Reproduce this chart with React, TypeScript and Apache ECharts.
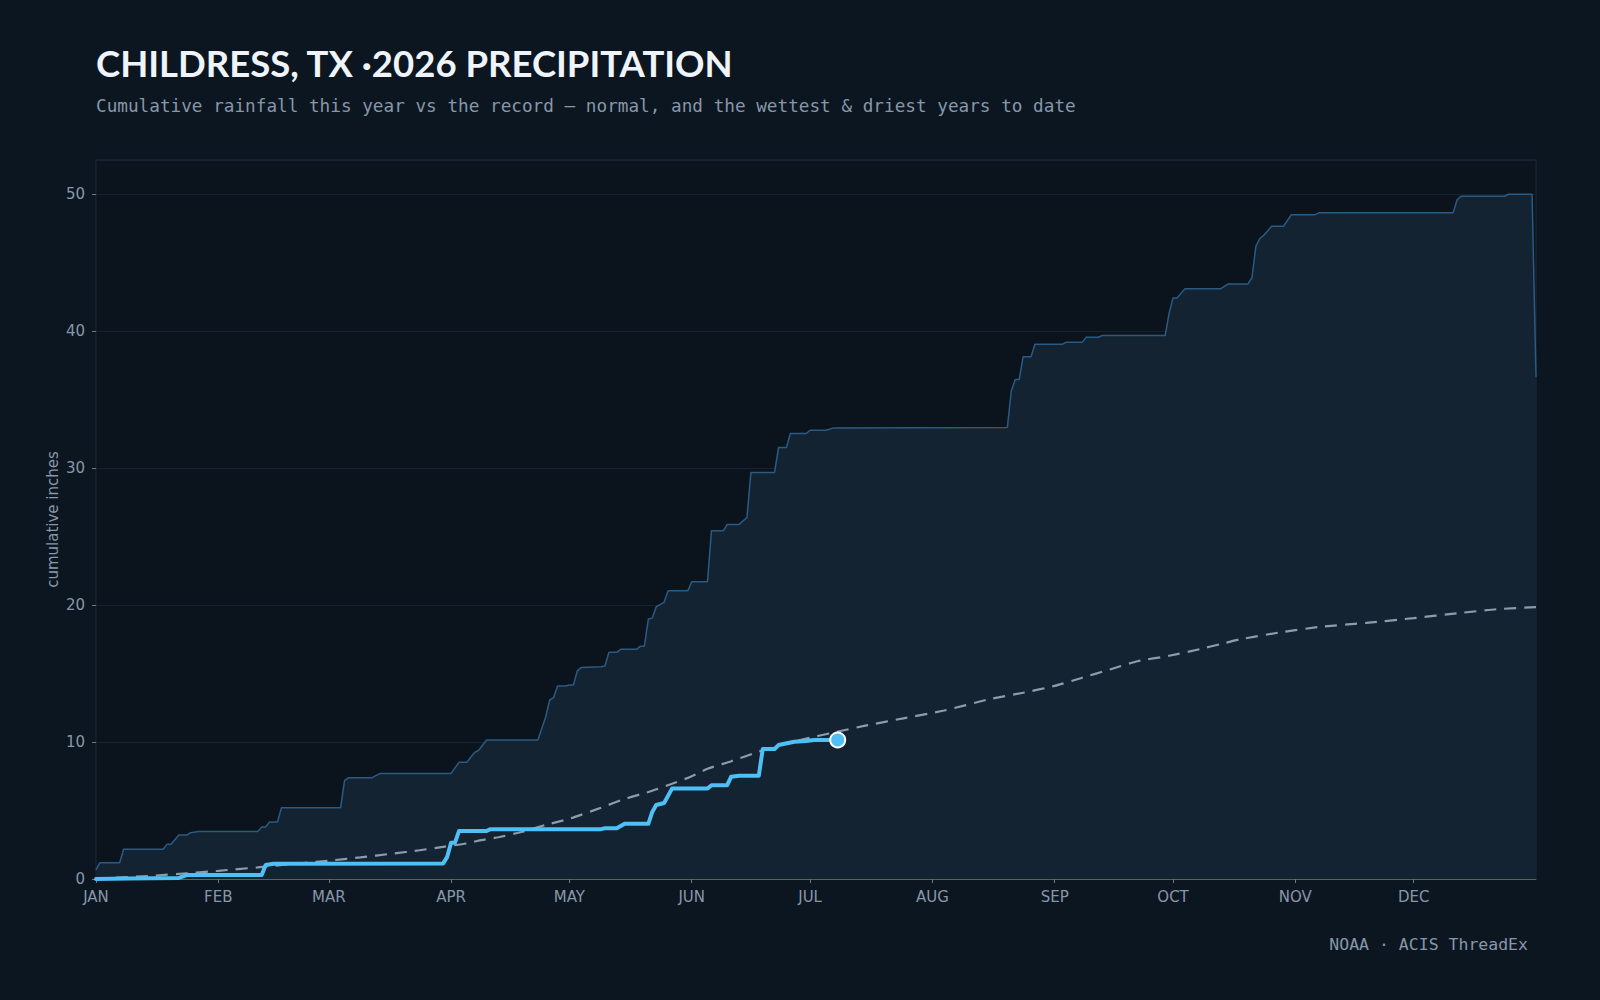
import React, { useEffect, useRef } from "react";
import * as echarts from "echarts";

const MONTH_LABELS = ["JAN", "FEB", "MAR", "APR", "MAY", "JUN", "JUL", "AUG", "SEP", "OCT", "NOV", "DEC"];
const MONTH_START_DAYS = [0, 31, 59, 90, 120, 151, 181, 212, 243, 273, 304, 334];

const TITLE = "CHILDRESS, TX ·2026 PRECIPITATION";
const SUBTITLE = "Cumulative rainfall this year vs the record — normal, and the wettest & driest years to date";
const SOURCE = "NOAA · ACIS ThreadEx";
const Y_NAME = "cumulative inches";

// wettest year on record, cumulative inches by day of year
const WETTEST: [number, number][] = [
  [0, 0.66], [1, 1.19], [6, 1.19], [7, 2.17], [17, 2.17], [18, 2.53], [19, 2.53], [21, 3.21], [23, 3.21],
  [24, 3.38], [26, 3.46], [41, 3.46], [42, 3.8], [43, 3.8], [44, 4.16], [46, 4.16], [47, 5.2], [62, 5.2],
  [63, 7.18], [64, 7.4], [70, 7.4], [72, 7.71], [90, 7.71], [92, 8.52], [94, 8.52], [96, 9.25], [97, 9.4],
  [99, 10.15], [112, 10.15], [114, 11.85], [115, 13.07], [116, 13.25], [117, 14.09], [119, 14.09],
  [120, 14.16], [121, 14.16], [122, 15.2], [123, 15.45], [128, 15.5], [129, 15.55], [130, 16.55],
  [132, 16.55], [133, 16.77], [137, 16.77], [138, 17.0], [139, 17.0], [140, 18.98], [141, 19.05],
  [142, 19.88], [144, 20.2], [145, 21.04], [150, 21.04], [151, 21.7], [155, 21.7], [156, 25.42],
  [159, 25.42], [160, 25.89], [163, 25.89], [165, 26.4], [166, 29.69], [172, 29.69], [173, 31.5],
  [175, 31.5], [176, 32.53], [180, 32.53], [181, 32.77], [185, 32.77], [187, 32.94], [231, 32.97],
  [232, 35.64], [233, 36.47], [234, 36.47], [235, 38.13], [237, 38.13], [238, 39.05], [245, 39.05],
  [246, 39.2], [250, 39.2], [251, 39.56], [254, 39.56], [255, 39.68], [271, 39.68], [272, 41.3],
  [273, 42.43], [274, 42.43], [276, 43.09], [285, 43.09], [287, 43.45], [292, 43.45], [293, 43.9],
  [294, 46.2], [295, 46.77], [296, 47.0], [298, 47.66], [301, 47.66], [303, 48.51], [309, 48.51],
  [310, 48.64], [344, 48.64], [345, 49.6], [346, 49.85], [357, 49.85], [358, 50.0], [364, 50.0], [365, 36.66],
];

// normal cumulative precipitation
const NORMAL: [number, number][] = [
  [0, 0], [5, 0.1], [15, 0.25], [23, 0.42], [31, 0.6], [41, 0.85], [50, 1.1], [59, 1.34], [67, 1.58],
  [75, 1.85], [82, 2.1], [88, 2.35], [94, 2.6], [97, 2.8], [102, 3.05], [108, 3.45], [114, 3.95],
  [120, 4.4], [128, 5.2], [134, 5.85], [140, 6.35], [146, 6.95], [151, 7.5], [155, 8.05], [161, 8.6],
  [168, 9.3], [174, 9.85], [180, 10.25], [187, 10.7], [195, 11.2], [205, 11.75], [215, 12.3],
  [226, 13.1], [235, 13.6], [243, 14.1], [250, 14.7], [257, 15.3], [264, 15.9], [272, 16.3],
  [280, 16.8], [285, 17.15], [290, 17.5], [300, 18.0], [310, 18.4], [322, 18.7], [334, 19.05],
  [345, 19.4], [355, 19.7], [365, 19.85],
];

// 2026 year to date
const CURRENT: [number, number][] = [
  [0, 0], [8, 0.03], [21, 0.08], [23, 0.29], [42, 0.29], [43, 1.02], [45, 1.12], [88, 1.14], [89, 1.6],
  [90, 2.65], [91, 2.65], [92, 3.5], [99, 3.5], [100, 3.64], [128, 3.64], [129, 3.7], [132, 3.7],
  [134, 4.03], [140, 4.03], [141, 4.9], [142, 5.4], [144, 5.55], [146, 6.6], [155, 6.6], [156, 6.85],
  [160, 6.85], [161, 7.47], [163, 7.54], [168, 7.54], [169, 9.49], [172, 9.49], [173, 9.78],
  [177, 10.02], [180, 10.07], [182, 10.15], [188, 10.15],
];
const LATEST: [number, number] = [188, 10.15];

const BG = "#0c1620";
const LABEL = "#8797aa";
const SANS = "'DejaVu Sans', sans-serif";
const MONO = "'DejaVu Sans Mono', monospace";

export default function App() {
  const ref = useRef<HTMLDivElement>(null);
  useEffect(() => {
    document.body.style.margin = "0";
    document.body.style.background = BG;
    const chart = echarts.init(ref.current!, null, { renderer: "svg" });
    chart.setOption({
      animation: false,
      backgroundColor: BG,
      graphic: [
        {
          type: "text",
          x: 96,
          y: 63,
          style: {
            text: TITLE,
            font: "bold 36.5px Lato, 'Liberation Sans', sans-serif",
            fill: "#eef4fa",
            textAlign: "left",
            textVerticalAlign: "middle",
          },
        },
        {
          type: "text",
          x: 96,
          y: 106,
          style: {
            text: SUBTITLE,
            font: `17.7px ${MONO}`,
            fill: LABEL,
            textAlign: "left",
            textVerticalAlign: "middle",
          },
        },
        {
          type: "text",
          x: 1528,
          y: 944,
          style: {
            text: SOURCE,
            font: `16.5px ${MONO}`,
            fill: LABEL,
            textAlign: "right",
            textVerticalAlign: "middle",
          },
        },
      ],
      grid: {
        left: 96,
        right: 64,
        top: 160,
        bottom: 121,
        show: true,
        backgroundColor: "#0b141c",
        borderColor: "#1a2b3b",
        borderWidth: 1,
      },
      xAxis: {
        type: "value",
        min: 0,
        max: 365,
        splitLine: { show: false },
        axisLine: { show: true, lineStyle: { color: "#5f6258", width: 1 } },
        axisTick: {
          show: true,
          length: 4,
          customValues: MONTH_START_DAYS,
          lineStyle: { color: "#6b7a8a" },
        },
        axisLabel: {
          customValues: MONTH_START_DAYS,
          formatter: (v: number) => MONTH_LABELS[MONTH_START_DAYS.indexOf(Math.round(v))] ?? "",
          color: LABEL,
          fontFamily: SANS,
          fontSize: 15,
          margin: 10,
        },
      },
      yAxis: {
        type: "value",
        min: 0,
        max: 52.5,
        interval: 10,
        name: Y_NAME,
        nameLocation: "middle",
        nameGap: 36,
        nameMoveOverlap: false,
        nameTextStyle: { color: LABEL, fontFamily: SANS, fontSize: 15 },
        axisLine: { show: false },
        axisTick: { show: true, length: 4, lineStyle: { color: "#6b7a8a" } },
        axisLabel: {
          color: LABEL,
          fontFamily: SANS,
          fontSize: 15,
          margin: 11,
          showMaxLabel: false,
        },
        splitLine: { show: true, lineStyle: { color: "#152431", width: 1 } },
      },
      series: [
        {
          name: "wettest",
          type: "line",
          data: WETTEST,
          symbol: "none",
          lineStyle: { color: "#2a5b85", width: 1.5 },
          areaStyle: { color: "#132331", opacity: 1 },
          z: 1,
        },
        {
          name: "normal",
          type: "line",
          data: NORMAL,
          symbol: "none",
          smooth: 0.2,
          lineStyle: { color: "#8d9cad", width: 2.2, type: [12, 8] },
          z: 2,
        },
        {
          name: "2026",
          type: "line",
          data: CURRENT,
          symbol: "none",
          lineStyle: { color: "#4fc0f5", width: 4, cap: "round", join: "round" },
          z: 3,
        },
        {
          name: "latest",
          type: "scatter",
          data: [LATEST],
          symbol: "circle",
          symbolSize: 15,
          itemStyle: { color: "#4fc0f5", borderColor: "#ffffff", borderWidth: 2, opacity: 1 },
          z: 4,
        },
      ],
    });
    return () => chart.dispose();
  }, []);
  return <div ref={ref} style={{ position: "fixed", left: 0, top: 0, width: 1600, height: 1000 }} />;
}
